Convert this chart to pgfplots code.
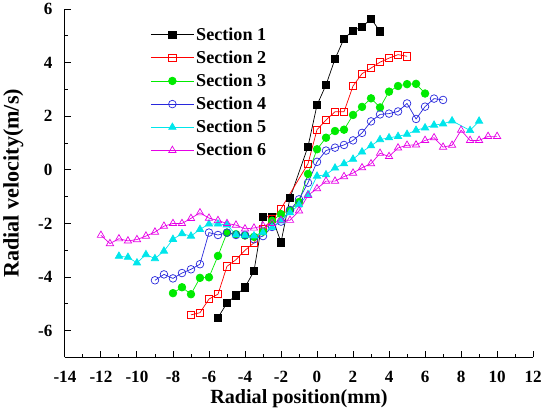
\documentclass[border=0pt]{standalone}
\usepackage{fontspec}
\setmainfont{Liberation Serif}
\usepackage{pgfplots}
\pgfplotsset{compat=1.18}
\definecolor{cgreen}{RGB}{0,235,0}
\definecolor{cblue}{RGB}{40,40,220}
\definecolor{ccyan}{RGB}{0,230,235}
\definecolor{cmag}{RGB}{230,0,230}
\begin{document}
\begin{tikzpicture}
\begin{axis}[
  scale only axis,
  width=465pt, height=346pt,
  xmin=-14, xmax=12, ymin=-7, ymax=6,
  axis lines=left,
  axis line style={-, line width=1.1pt, black},
  tick align=inside,
  xtick={-14,-12,...,12}, ytick={-6,-4,...,6},
  minor x tick num=1, minor y tick num=1,
  major tick length=6pt, minor tick length=3.5pt,
  every tick/.style={black, line width=0.9pt},
  /pgf/number format/assume math mode=true,
  tick label style={font=\fontsize{17}{20}\selectfont\bfseries},
  xticklabel style={yshift=-10pt},
  yticklabel style={xshift=-9pt},
  xlabel={Radial position(mm)},
  ylabel={Radial velocity(m/s)},
  xlabel style={font=\fontsize{20}{24}\selectfont\bfseries, at={(axis description cs:0.5,-0.118)}, anchor=center},
  ylabel style={font=\fontsize{22}{26}\selectfont\bfseries, at={(axis description cs:-0.11,0.5)}, anchor=center},
  legend style={at={(0.176,0.959)}, anchor=north west, draw=none, fill=none,
    font=\fontsize{18}{22}\selectfont\bfseries, row sep=5pt},
  legend cell align=left,
  legend image code/.code={\draw[mark repeat=2,mark phase=2] plot coordinates {(0cm,0cm)(0.75cm,0cm)(1.5cm,0cm)};},
  every axis plot/.append style={line width=0.7pt},
]
\addplot[black, mark=square*, mark size=3.6pt, mark options={solid, fill=black}] coordinates {
(-5.5,-5.51) (-5.0,-4.97) (-4.5,-4.68) (-4.0,-4.38) (-3.5,-3.78) (-3.0,-1.75) (-2.5,-1.75)
(-2.0,-2.70) (-1.5,-1.05) (-0.5,0.87) (0,2.42) (0.5,3.17) (1.0,4.14) (1.5,4.90) (2.0,5.20)
(2.5,5.33) (3.0,5.64) (3.5,5.17)};
\addlegendentry{Section 1}
\addplot[red, mark=square, mark size=3.6pt, mark options={solid, fill=white}] coordinates {
(-7.0,-5.41) (-6.5,-5.33) (-6.0,-4.82) (-5.5,-4.64) (-5.0,-3.60) (-4.5,-3.35) (-4.0,-3.00)
(-3.5,-2.72) (-3.0,-2.22) (-2.5,-1.84) (-2.0,-1.45) (-0.5,0.23) (0,1.50) (0.5,1.86) (1.0,2.17)
(1.5,2.17) (2.0,3.13) (2.5,3.59) (3.0,3.80) (3.5,4.02) (4.0,4.17) (4.5,4.30) (5.0,4.24)};
\addlegendentry{Section 2}
\addplot[cgreen, mark=*, mark size=3.8pt, mark options={solid, fill=cgreen}] coordinates {
(-8.0,-4.60) (-7.5,-4.38) (-7.0,-4.64) (-6.5,-4.03) (-6.0,-4.01) (-5.5,-3.21) (-5.0,-2.35)
(-4.5,-2.40) (-4.0,-2.45) (-3.5,-2.50) (-3.0,-2.30) (-2.5,-1.90) (-2.0,-1.65) (-1.5,-1.50)
(-1.0,-1.20) (-0.5,-0.15) (0,0.77) (0.5,1.20) (1.0,1.45) (1.5,1.50) (2.0,2.05) (2.5,2.35)
(3.0,2.67) (3.5,2.33) (4.0,2.92) (4.5,3.13) (5.0,3.20) (5.5,3.21) (6.0,2.85)};
\addlegendentry{Section 3}
\addplot[cblue, mark=o, mark size=3.8pt, mark options={solid, fill=white}] coordinates {
(-9.0,-4.12) (-8.5,-3.90) (-8.0,-4.05) (-7.5,-3.85) (-7.0,-3.71) (-6.5,-3.52) (-6.0,-2.34)
(-5.5,-2.43) (-5.0,-2.34) (-4.5,-2.43) (-4.0,-2.43) (-3.5,-2.59) (-3.0,-2.47) (-2.5,-2.13)
(-2.0,-1.93) (-1.5,-1.50) (-1.0,-1.10) (-0.5,-0.48) (0,0.30) (0.5,0.72) (1.0,0.83) (1.5,0.93)
(2.0,1.10) (2.5,1.38) (3.0,1.81) (3.5,2.07) (4.0,2.10) (4.5,2.18) (5.0,2.48) (5.5,1.90)
(6.0,2.36) (6.5,2.66) (7.0,2.61)};
\addlegendentry{Section 4}
\addplot[ccyan, mark=triangle*, mark size=4.2pt, mark options={solid, fill=ccyan}] coordinates {
(-11.0,-3.22) (-10.5,-3.26) (-10.0,-3.47) (-9.5,-3.16) (-9.0,-3.31) (-8.5,-3.03) (-8.0,-2.59)
(-7.5,-2.38) (-7.0,-2.47) (-6.5,-2.22) (-6.0,-2.02) (-5.5,-2.02) (-5.0,-2.05) (-4.5,-2.42)
(-4.0,-2.44) (-3.5,-2.46) (-3.0,-2.34) (-2.5,-2.15) (-2.0,-1.90) (-1.5,-1.60) (-1.0,-1.30)
(-0.5,-0.92) (0,-0.23) (0.5,-0.18) (1.0,0.07) (1.5,0.23) (2.0,0.40) (2.5,0.67) (3.0,0.90)
(3.5,1.13) (4.0,1.20) (4.5,1.25) (5.0,1.33) (5.5,1.48) (6.0,1.57) (6.5,1.67) (7.0,1.72)
(7.5,1.83) (8.5,1.47) (9.0,1.82)};
\addlegendentry{Section 5}
\addplot[cmag, mark=triangle, mark size=4.2pt, mark options={solid, fill=white}] coordinates {
(-12.0,-2.44) (-11.5,-2.75) (-11.0,-2.57) (-10.5,-2.65) (-10.0,-2.60) (-9.5,-2.47) (-9.0,-2.32)
(-8.5,-2.10) (-8.0,-2.00) (-7.5,-2.00) (-7.0,-1.81) (-6.5,-1.60) (-6.0,-1.80) (-5.5,-1.89)
(-5.0,-2.00) (-4.5,-2.06) (-4.0,-2.20) (-3.5,-2.17) (-3.0,-2.09) (-2.5,-2.00) (-2.0,-1.88)
(-1.5,-1.88) (-1.0,-1.53) (-0.5,-0.95) (0,-0.70) (0.5,-0.42) (1.0,-0.42) (1.5,-0.25)
(2.0,-0.12) (2.5,0.08) (3.0,0.23) (3.5,0.62) (4.0,0.50) (4.5,0.82) (5.0,0.92) (5.5,0.93)
(6.0,1.10) (6.5,1.20) (7.0,0.85) (7.5,0.92) (8.0,1.48) (8.5,1.10) (9.0,1.10) (9.5,1.25)
(10.0,1.25)};
\addlegendentry{Section 6}
\end{axis}
\end{tikzpicture}
\end{document}
